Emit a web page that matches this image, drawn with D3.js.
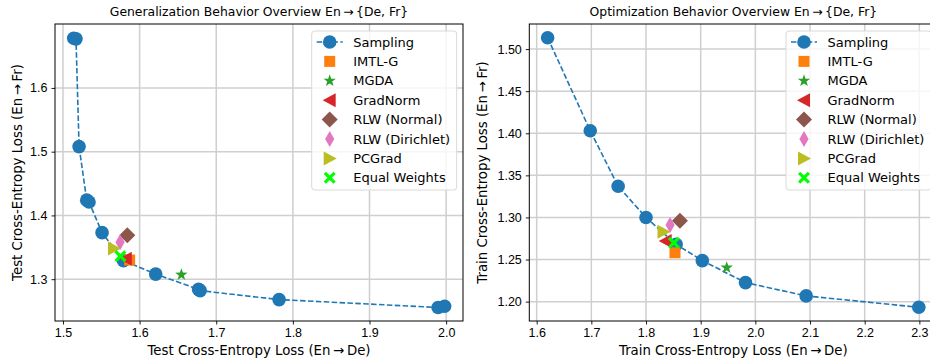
<!DOCTYPE html>
<html>
<head>
<meta charset="utf-8">
<script src="https://cdn.jsdelivr.net/npm/d3@7"></script>
<style>
  body { margin: 0; background: #fff; }
  svg { display: block; font-family: "DejaVu Sans", sans-serif; }
  .tick-label { font-size: 12.5px; fill: #000; }
  .axis-label { font-size: 13.3px; fill: #000; }
  .title { font-size: 12.4px; fill: #000; }
  .legend-text { font-size: 13px; fill: #000; }
</style>
</head>
<body>
<div id="chart"></div>
<script>
// ---- data ----
const methods = ['IMTL-G', 'MGDA', 'GradNorm', 'RLW (Normal)', 'RLW (Dirichlet)', 'PCGrad', 'Equal Weights'];

const genSampX = [1.514, 1.517, 1.521, 1.531, 1.534, 1.551, 1.579, 1.621, 1.677, 1.679, 1.782, 1.9895, 1.998];
const genSampY = [1.678, 1.677, 1.508, 1.424, 1.421, 1.373, 1.329, 1.308, 1.284, 1.282, 1.268, 1.2556, 1.2576];
const genMethodX = [1.587, 1.6545, 1.582, 1.584, 1.5745, 1.5665, 1.575];
const genMethodY = [1.330, 1.307, 1.332, 1.369, 1.358, 1.348, 1.336];

const trainSampX = [1.620, 1.698, 1.749, 1.800, 1.855, 1.903, 1.982, 2.093, 2.299];
const trainSampY = [1.5135, 1.403, 1.337, 1.300, 1.268, 1.2487, 1.2226, 1.2068, 1.1933];
const trainMethodX = [1.853, 1.9476, 1.836, 1.862, 1.844, 1.832, 1.851];
const trainMethodY = [1.258, 1.2404, 1.272, 1.296, 1.291, 1.283, 1.270];

const genXTicks = [1.5, 1.6, 1.7, 1.8, 1.9, 2.0];
const genYTicks = [1.3, 1.4, 1.5, 1.6];
const trainXTicks = [1.6, 1.7, 1.8, 1.9, 2.0, 2.1, 2.2, 2.3];
const trainYTicks = [1.20, 1.25, 1.30, 1.35, 1.40, 1.45, 1.50];

const blue = '#1f77b4';
const methodColors = ['#ff7f0e', '#2ca02c', '#d62728', '#8c564b', '#e377c2', '#bcbd22', '#00ff00'];

// marker shapes, drawn around (0,0)
function markerPath(kind) {
  const p = d3.path();
  if (kind === 'square') {
    p.rect(-5.5, -5.5, 11, 11);
  } else if (kind === 'star') {
    for (let i = 0; i < 10; i++) {
      const r = i % 2 === 0 ? 6.5 : 2.6;
      const a = -Math.PI / 2 + i * Math.PI / 5;
      if (i === 0) p.moveTo(r * Math.cos(a), r * Math.sin(a));
      else p.lineTo(r * Math.cos(a), r * Math.sin(a));
    }
    p.closePath();
  } else if (kind === 'triLeft') {
    p.moveTo(-7, 0); p.lineTo(6, -7); p.lineTo(6, 7); p.closePath();
  } else if (kind === 'triRight') {
    p.moveTo(7, 0); p.lineTo(-6, -7); p.lineTo(-6, 7); p.closePath();
  } else if (kind === 'diamond') {
    p.moveTo(0, -8); p.lineTo(8, 0); p.lineTo(0, 8); p.lineTo(-8, 0); p.closePath();
  } else if (kind === 'thinDiamond') {
    p.moveTo(0, -8); p.lineTo(4.6, 0); p.lineTo(0, 8); p.lineTo(-4.6, 0); p.closePath();
  } else if (kind === 'x') {
    const a = 6, w = 2.2;
    p.moveTo(-a, -a + w); p.lineTo(-a + w, -a); p.lineTo(0, -w); p.lineTo(a - w, -a); p.lineTo(a, -a + w);
    p.lineTo(w, 0); p.lineTo(a, a - w); p.lineTo(a - w, a); p.lineTo(0, w); p.lineTo(-a + w, a);
    p.lineTo(-a, a - w); p.lineTo(-w, 0); p.closePath();
  }
  return p.toString();
}
const methodShapes = ['square', 'star', 'triLeft', 'diamond', 'thinDiamond', 'triRight', 'x'];

const width = 930, height = 360;
const svg = d3.select('#chart').append('svg')
  .attr('width', width)
  .attr('height', height);

function drawPanel(cfg) {
  const x = d3.scaleLinear().domain(cfg.xDomain).range([cfg.left, cfg.right]);
  const y = d3.scaleLinear().domain(cfg.yDomain).range([cfg.bottom, cfg.top]);

  const clipId = 'clip-' + cfg.id;
  svg.append('clipPath').attr('id', clipId)
    .append('rect')
    .attr('x', cfg.left).attr('y', cfg.top)
    .attr('width', cfg.right - cfg.left).attr('height', cfg.bottom - cfg.top);

  // grid
  const grid = svg.append('g');
  grid.selectAll('line.gx')
    .data(cfg.xTicks)
    .join('line')
    .attr('x1', d => x(d)).attr('x2', d => x(d))
    .attr('y1', cfg.top).attr('y2', cfg.bottom)
    .attr('stroke', '#cfcfcf').attr('stroke-width', 1.5);
  grid.selectAll('line.gy')
    .data(cfg.yTicks)
    .join('line')
    .attr('y1', d => y(d)).attr('y2', d => y(d))
    .attr('x1', cfg.left).attr('x2', cfg.right)
    .attr('stroke', '#cfcfcf').attr('stroke-width', 1.5);

  // axes
  const xAxis = svg.append('g')
    .attr('transform', `translate(0,${cfg.bottom})`)
    .call(d3.axisBottom(x).tickValues(cfg.xTicks).tickFormat(d3.format('.1f')).tickSize(3.5).tickPadding(4));
  const yAxis = svg.append('g')
    .attr('transform', `translate(${cfg.left},0)`)
    .call(d3.axisLeft(y).tickValues(cfg.yTicks).tickFormat(d3.format(cfg.yFormat)).tickSize(3.5).tickPadding(4));
  [xAxis, yAxis].forEach(g => {
    g.select('.domain').remove();
    g.selectAll('text').attr('class', 'tick-label').attr('font-size', null).attr('font-family', null);
    g.selectAll('line').attr('stroke', '#000').attr('stroke-width', 0.9);
  });

  const plot = svg.append('g').attr('clip-path', `url(#${clipId})`);

  // sampling curve
  const pts = cfg.sampX.map((v, i) => [v, cfg.sampY[i]]);
  plot.append('path')
    .datum(pts)
    .attr('fill', 'none')
    .attr('stroke', blue)
    .attr('stroke-width', 1.6)
    .attr('stroke-dasharray', '5.5,2.4')
    .attr('d', d3.line().x(d => x(d[0])).y(d => y(d[1])));
  plot.selectAll('circle.samp')
    .data(pts)
    .join('circle')
    .attr('cx', d => x(d[0]))
    .attr('cy', d => y(d[1]))
    .attr('r', 6.8)
    .attr('fill', blue);

  // method markers, in legend order
  methods.forEach((m, i) => {
    plot.append('path')
      .attr('d', markerPath(methodShapes[i]))
      .attr('transform', `translate(${x(cfg.methodX[i])},${y(cfg.methodY[i])})`)
      .attr('fill', methodColors[i]);
  });

  // frame
  svg.append('rect')
    .attr('x', cfg.left).attr('y', cfg.top)
    .attr('width', cfg.right - cfg.left).attr('height', cfg.bottom - cfg.top)
    .attr('fill', 'none').attr('stroke', '#000').attr('stroke-width', 1);

  // legend
  const lg = svg.append('g').attr('transform', `translate(${cfg.legendX},31)`);
  lg.append('rect')
    .attr('width', 145).attr('height', 159)
    .attr('rx', 3)
    .attr('fill', 'rgba(255,255,255,0.8)')
    .attr('stroke', '#d9d9d9');
  const rowY = i => 11 + i * 19.4;
  lg.append('line')
    .attr('x1', 5).attr('x2', 31).attr('y1', rowY(0)).attr('y2', rowY(0))
    .attr('stroke', blue).attr('stroke-width', 1.6).attr('stroke-dasharray', '5.5,2.4');
  lg.append('circle').attr('cx', 18).attr('cy', rowY(0)).attr('r', 6.8).attr('fill', blue);
  lg.append('text').attr('class', 'legend-text').attr('x', 41.5).attr('y', rowY(0) + 4.6).text('Sampling');
  methods.forEach((m, i) => {
    lg.append('path')
      .attr('d', markerPath(methodShapes[i]))
      .attr('transform', `translate(18,${rowY(i + 1)})`)
      .attr('fill', methodColors[i]);
    lg.append('text').attr('class', 'legend-text')
      .attr('x', 41.5).attr('y', rowY(i + 1) + 4.6).text(m);
  });

  // labels
  const cx = (cfg.left + cfg.right) / 2;
  svg.append('text').attr('class', 'title')
    .attr('x', cx).attr('y', 16).attr('text-anchor', 'middle').text(cfg.title);
  svg.append('text').attr('class', 'axis-label')
    .attr('x', cx).attr('y', 355).attr('text-anchor', 'middle').text(cfg.xLabel);
  svg.append('text').attr('class', 'axis-label')
    .attr('transform', `translate(${cfg.yLabelX},${(cfg.top + cfg.bottom) / 2}) rotate(-90)`)
    .attr('text-anchor', 'middle').text(cfg.yLabel);
}

drawPanel({
  id: 'gen', left: 55, right: 463, top: 24, bottom: 321,
  xDomain: [1.4896, 2.022], yDomain: [1.2344, 1.7003],
  xTicks: genXTicks, yTicks: genYTicks, yFormat: '.1f',
  sampX: genSampX, sampY: genSampY, methodX: genMethodX, methodY: genMethodY,
  legendX: 311.7, yLabelX: 22,
  title: 'Generalization Behavior Overview En\u2009\u2192\u2009{De, Fr}',
  xLabel: 'Test Cross-Entropy Loss (En\u2009\u2192\u2009De)',
  yLabel: 'Test Cross-Entropy Loss (En\u2009\u2192\u2009Fr)'
});

drawPanel({
  id: 'train', left: 529.3, right: 937.4, top: 24, bottom: 321,
  xDomain: [1.5865, 2.333], yDomain: [1.177, 1.5298],
  xTicks: trainXTicks, yTicks: trainYTicks, yFormat: '.2f',
  sampX: trainSampX, sampY: trainSampY, methodX: trainMethodX, methodY: trainMethodY,
  legendX: 786, yLabelX: 487,
  title: 'Optimization Behavior Overview En\u2009\u2192\u2009{De, Fr}',
  xLabel: 'Train Cross-Entropy Loss (En\u2009\u2192\u2009De)',
  yLabel: 'Train Cross-Entropy Loss (En\u2009\u2192\u2009Fr)'
});
</script>
</body>
</html>
